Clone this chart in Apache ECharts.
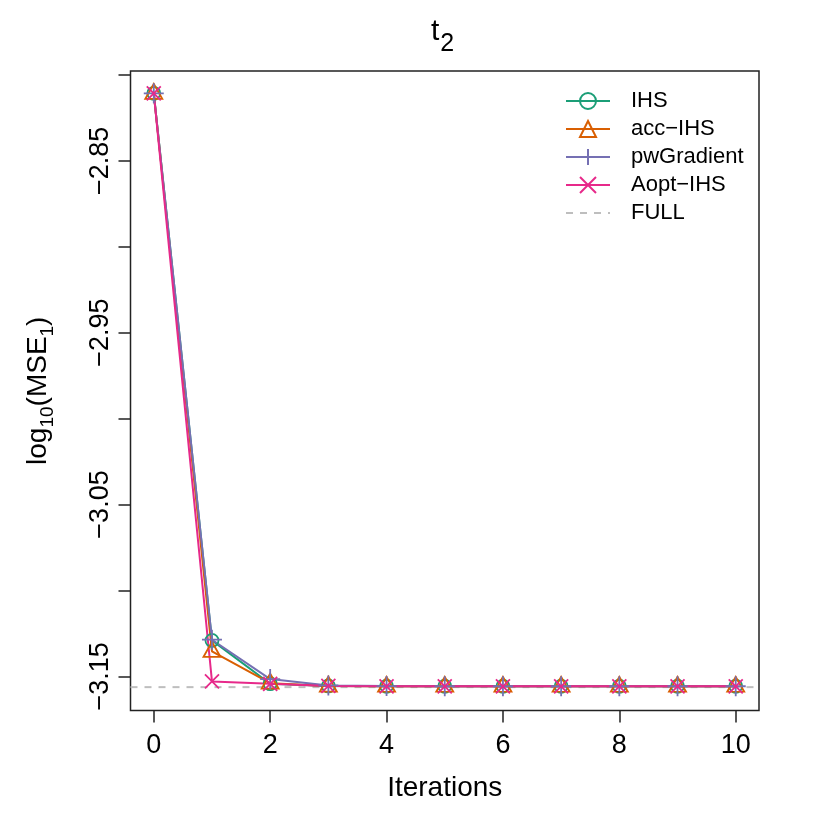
<!DOCTYPE html>
<html>
<head>
<meta charset="utf-8">
<script src="https://cdn.jsdelivr.net/npm/echarts@6/dist/echarts.min.js"></script>
<style>
	html, body { margin: 0; padding: 0; background: #fff; }
	#chart { width: 830px; height: 830px; }
</style>
</head>
<body>
<div id="chart"></div>
<script>
// values
const iterations = [0, 1, 2, 3, 4, 5, 6, 7, 8, 9, 10];
const ihs = [-2.8107, -3.1291, -3.1543, -3.1556, -3.1558, -3.1558, -3.1558, -3.1558, -3.1558, -3.1558, -3.1558];
const accIhs = [-2.8107, -3.1355, -3.1540, -3.1557, -3.1558, -3.1558, -3.1558, -3.1558, -3.1558, -3.1558, -3.1558];
const pwGradient = [-2.8107, -3.1287, -3.1516, -3.1553, -3.1557, -3.1558, -3.1558, -3.1558, -3.1558, -3.1558, -3.1558];
const aoptIhs = [-2.8107, -3.1530, -3.1544, -3.1556, -3.1558, -3.1558, -3.1558, -3.1558, -3.1558, -3.1558, -3.1558];
const fullLevel = -3.1563;

const xRange = [-0.4, 10.4];
const yRange = [-3.1699, -2.7977];
const xTicks = [0, 2, 4, 6, 8, 10];
const yTicks = [-2.80, -2.85, -2.90, -2.95, -3.00, -3.05, -3.10, -3.15];
const yTickLabels = [-2.85, -2.95, -3.05, -3.15];

const font = "Liberation Sans";
const colors = ["#1B9E77", "#D95F02", "#7570B3", "#E7298A"];

function points(values) {
	return iterations.map((x, i) => [x, values[i]]);
}

function lineSeries(name, values, color, symbol, size, offset) {
	return {
		name: name,
		type: "line",
		data: points(values),
		symbol: symbol,
		symbolSize: size,
		symbolOffset: offset || [0, 0],
		itemStyle: {color: "rgba(0,0,0,0)", borderColor: color, borderWidth: 1.8},
		lineStyle: {color: color, width: 2},
		emphasis: {disabled: true}
	};
}

const chart = echarts.init(document.getElementById("chart"));

const option = {
	animation: false,
	textStyle: {fontFamily: font, color: "#000"},
	title: {
		text: "{t|t}{s|2}",
		left: 426,
		top: 12,
		textStyle: {
			fontWeight: "normal",
			rich: {
				t: {fontFamily: font, fontSize: 30, fontWeight: "normal", color: "#000", verticalAlign: "top", lineHeight: 34},
				s: {fontFamily: font, fontSize: 25, fontWeight: "normal", color: "#000", verticalAlign: "top", lineHeight: 25, padding: [15, 0, 0, 1]}
			}
		}
	},
	grid: {
		left: 130.5,
		right: 71,
		top: 71,
		bottom: 119.5,
		show: true,
		borderColor: "#222",
		borderWidth: 1.5,
		containLabel: false
	},
	legend: {
		orient: "vertical",
		left: 560,
		top: 85,
		itemWidth: 44,
		itemHeight: 20,
		itemGap: 6,
		selectedMode: false,
		textStyle: {fontFamily: font, fontSize: 22, color: "#000", padding: [0, 0, 0, 16]},
		data: ["IHS", "acc\u2212IHS", "pwGradient", "Aopt\u2212IHS", "FULL"]
	},
	xAxis: {
		type: "value",
		min: xRange[0],
		max: xRange[1],
		name: "Iterations",
		nameLocation: "middle",
		nameGap: 64,
		nameTextStyle: {fontFamily: font, fontSize: 28, color: "#000"},
		axisLine: {show: false, onZero: false},
		splitLine: {show: false},
		axisTick: {show: true, length: 12, inside: false, customValues: xTicks, lineStyle: {color: "#222", width: 1.5}},
		axisLabel: {customValues: xTicks, fontSize: 27, color: "#000", margin: 22}
	},
	yAxis: {
		type: "value",
		min: yRange[0],
		max: yRange[1],
		name: "{m|log}{s|10}{m|(MSE}{s|1}{m|)}",
		nameLocation: "middle",
		nameRotate: 90,
		nameGap: 74,
		nameTextStyle: {
			rich: {
				m: {fontFamily: font, fontSize: 28, color: "#000", verticalAlign: "top", lineHeight: 32},
				s: {fontFamily: font, fontSize: 19, color: "#000", verticalAlign: "top", lineHeight: 19, padding: [14, 0, 0, 0]}
			}
		},
		axisLine: {show: false, onZero: false},
		splitLine: {show: false},
		axisTick: {show: true, length: 12, inside: false, customValues: yTicks, lineStyle: {color: "#222", width: 1.5}},
		axisLabel: {
			customValues: yTickLabels,
			rotate: 90,
			fontSize: 27,
			color: "#000",
			margin: 16,
			formatter: (v) => v.toFixed(2).replace("-", "\u2212")
		}
	},
	series: [
		{
			name: "FULL",
			type: "line",
			data: xRange.map((x) => [x, fullLevel]),
			symbol: "circle",
			showSymbol: false,
			itemStyle: {color: "rgba(0,0,0,0)", borderWidth: 0},
			lineStyle: {color: "#BEBEBE", width: 2, type: [7, 7]},
			emphasis: {disabled: true}
		},
		lineSeries("IHS", ihs, colors[0], "circle", 13),
		lineSeries("acc\u2212IHS", accIhs, colors[1], "triangle", [17, 15], [0, -2]),
		lineSeries("pwGradient", pwGradient, colors[2], "path://M0,-10L0,10M-10,0L10,0", 20),
		lineSeries("Aopt\u2212IHS", aoptIhs, colors[3], "path://M-10,-10L10,10M-10,10L10,-10", 14)
	]
};

chart.setOption(option);
</script>
</body>
</html>
